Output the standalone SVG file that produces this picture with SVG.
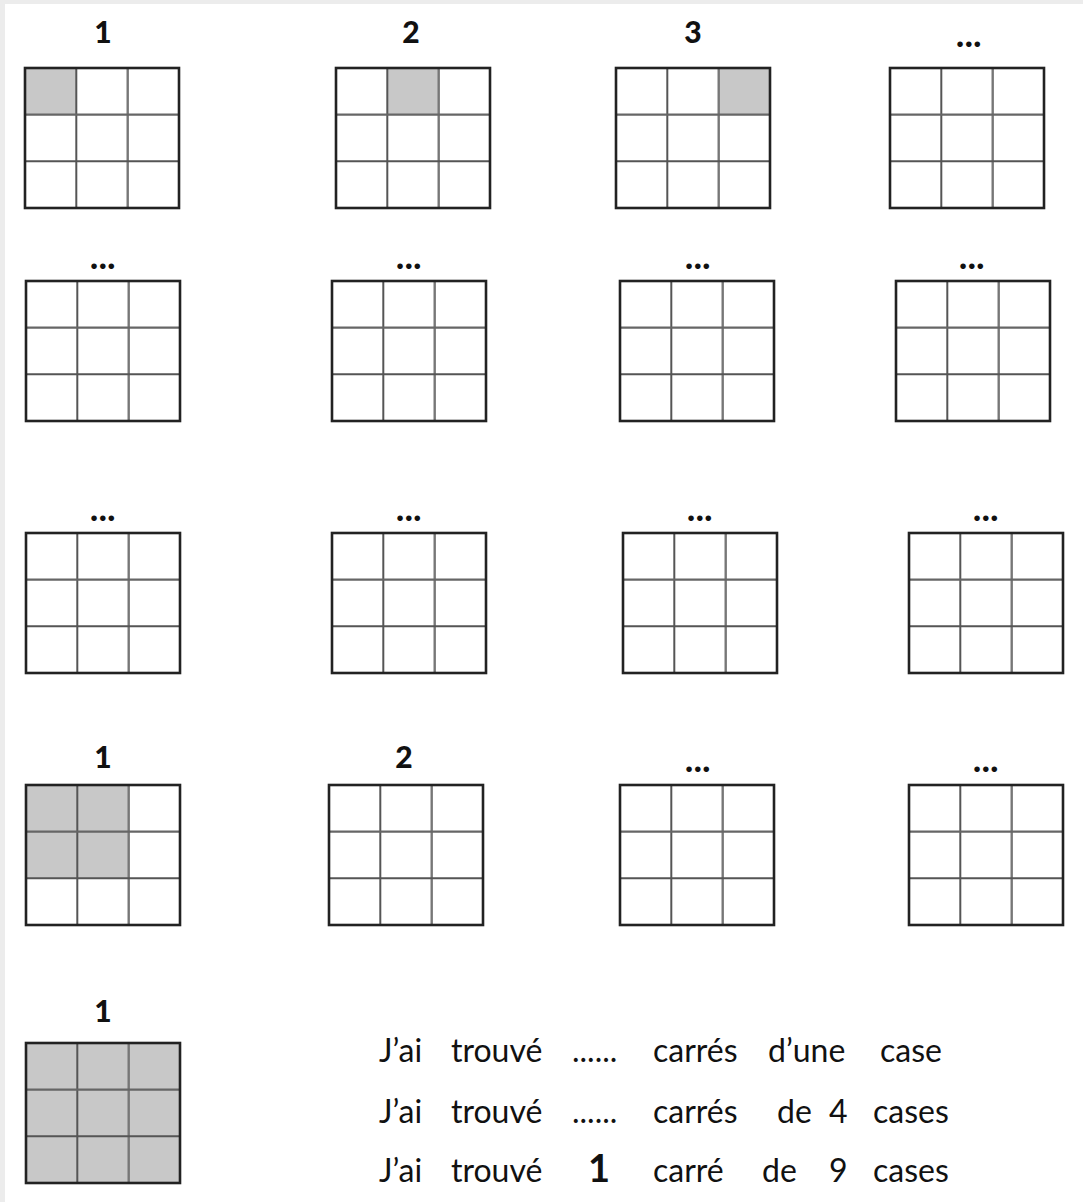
<svg xmlns="http://www.w3.org/2000/svg" xmlns:xlink="http://www.w3.org/1999/xlink" width="1083" height="1202" viewBox="0 0 1083 1202">
<style>
.lbl{font-family:Lato,"Liberation Sans",sans-serif;font-weight:900;font-size:30px;fill:#111;text-anchor:middle}
.dots{font-family:Lato,"Liberation Sans",sans-serif;font-weight:900;font-size:34px;fill:#111;text-anchor:middle;letter-spacing:0.5px}
.txt{font-family:Lato,"Carlito","Liberation Sans",sans-serif;font-size:32px;fill:#111}
.big{font-family:Lato,"Liberation Sans",sans-serif;font-weight:bold;font-size:38px;fill:#111}
.sh{fill:#c8c8c8}
</style>
<defs>
<g id="grid">
<line x1="51.3" y1="0" x2="51.3" y2="140" stroke="#555" stroke-width="2"/>
<line x1="102.7" y1="0" x2="102.7" y2="140" stroke="#777" stroke-width="2.4"/>
<line x1="0" y1="46.7" x2="154" y2="46.7" stroke="#666" stroke-width="2.2"/>
<line x1="0" y1="93.3" x2="154" y2="93.3" stroke="#555" stroke-width="2"/>
<rect x="0" y="0" width="154" height="140" fill="none" stroke="#222" stroke-width="2.6"/>
</g>
</defs>
<rect x="0" y="0" width="1083" height="1202" fill="#ececec"/>
<rect x="5" y="4" width="1078" height="1198" fill="#ffffff"/>

<g id="connectors"></g>

<!-- Row 1 -->
<g id="g1"><text class="lbl" x="103" y="43">1</text><rect class="sh" x="25" y="68" width="51.3" height="46.7"/><use xlink:href="#grid" href="#grid" x="25" y="68"/></g>
<g id="g2"><text class="lbl" x="411" y="43">2</text><rect class="sh" x="387.3" y="68" width="51.4" height="46.7"/><use xlink:href="#grid" href="#grid" x="336" y="68"/></g>
<g id="g3"><text class="lbl" x="693" y="43">3</text><rect class="sh" x="718.7" y="68" width="51.3" height="46.7"/><use xlink:href="#grid" href="#grid" x="616" y="68"/></g>
<g id="g4"><text class="dots" x="969" y="47">...</text><use xlink:href="#grid" href="#grid" x="890" y="68"/></g>

<!-- Row 2 -->
<g id="g5"><text class="dots" x="103" y="269">...</text><use xlink:href="#grid" href="#grid" x="26" y="281"/></g>
<g id="g6"><text class="dots" x="409" y="269">...</text><use xlink:href="#grid" href="#grid" x="332" y="281"/></g>
<g id="g7"><text class="dots" x="698" y="269">...</text><use xlink:href="#grid" href="#grid" x="620" y="281"/></g>
<g id="g8"><text class="dots" x="972" y="269">...</text><use xlink:href="#grid" href="#grid" x="896" y="281"/></g>

<!-- Row 3 -->
<g id="g9"><text class="dots" x="103" y="521">...</text><use xlink:href="#grid" href="#grid" x="26" y="533"/></g>
<g id="g10"><text class="dots" x="409" y="521">...</text><use xlink:href="#grid" href="#grid" x="332" y="533"/></g>
<g id="g11"><text class="dots" x="700" y="521">...</text><use xlink:href="#grid" href="#grid" x="623" y="533"/></g>
<g id="g12"><text class="dots" x="986" y="521">...</text><use xlink:href="#grid" href="#grid" x="909" y="533"/></g>

<!-- Row 4 -->
<g id="g13"><text class="lbl" x="103" y="768">1</text><rect class="sh" x="26" y="785" width="102.7" height="93.3"/><use xlink:href="#grid" href="#grid" x="26" y="785"/></g>
<g id="g14"><text class="lbl" x="404" y="768">2</text><use xlink:href="#grid" href="#grid" x="329" y="785"/></g>
<g id="g15"><text class="dots" x="698" y="772">...</text><use xlink:href="#grid" href="#grid" x="620" y="785"/></g>
<g id="g16"><text class="dots" x="986" y="772">...</text><use xlink:href="#grid" href="#grid" x="909" y="785"/></g>

<!-- Row 5 -->
<g id="g17"><text class="lbl" x="103" y="1022">1</text><rect class="sh" x="26" y="1043" width="154" height="140"/><use xlink:href="#grid" href="#grid" x="26" y="1043"/></g>

<g id="text-lines">
<text class="txt" y="1062"><tspan x="379">J’ai</tspan><tspan x="451">trouvé</tspan><tspan x="572">......</tspan><tspan x="653">carrés</tspan><tspan x="768">d’une</tspan><tspan x="880">case</tspan></text>
<text class="txt" y="1123"><tspan x="379">J’ai</tspan><tspan x="451">trouvé</tspan><tspan x="572">......</tspan><tspan x="653">carrés</tspan><tspan x="777">de</tspan><tspan x="829">4</tspan><tspan x="873">cases</tspan></text>
<text class="txt" y="1182"><tspan x="379">J’ai</tspan><tspan x="451">trouvé</tspan><tspan x="653">carré</tspan><tspan x="762">de</tspan><tspan x="829">9</tspan><tspan x="873">cases</tspan></text>
<text class="big" x="588" y="1182">1</text>
</g>
</svg>
